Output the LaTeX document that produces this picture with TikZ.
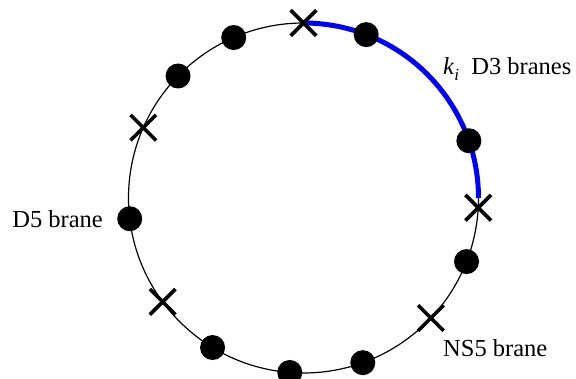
\documentclass[tikz,border=0pt]{standalone}
\usepackage{fontspec}
\setmainfont{Liberation Serif}
\newfontfamily\lserif{Liberation Serif}
\usetikzlibrary{shapes.misc}
\begin{document}
\begin{tikzpicture}[x=1pt,y=1pt,
  dbrane/.style={circle,fill=black,inner sep=0pt,minimum size=25pt},
  nsbrane/.style={cross out,draw=black,line width=3.6pt,inner sep=0pt,minimum size=22pt},
  lbl/.style={font=\lserif\fontsize{24.5}{28}\selectfont,inner sep=0pt}]
\useasboundingbox (0,0) rectangle (576,378);
\coordinate (c) at (303.5,180);
\draw[line width=1.2pt] (c) circle[radius=175];
\draw[blue,line width=5pt] ([shift={(90:175)}]c) arc[start angle=90,end angle=0,radius=175];
% D5 branes (dots)
\foreach \a/\n in {69/d1,113.5/d2,135.8/d3,186.8/d4,238.7/d5,265.5/d6,289.8/d7,338.7/d8,19.1/d9}
  \node[dbrane] (\n) at ([shift={(\a:175)}]c) {};
% NS5 branes (crosses)
\foreach \a/\n in {90/x1,156.3/x2,216.4/x3,316.7/x4,356.8/x5}
  \node[nsbrane] (\n) at ([shift={(\a:175)}]c) {};
\node[lbl,anchor=base west] (l1) at (443,303) {\textit{k}\raisebox{-0.22em}{\fontsize{17}{20}\selectfont\textit{i}}\ \ D3 branes};
\node[lbl,anchor=base east] (l2) at (103,150) {D5 brane};
\node[lbl,anchor=base west] (l3) at (443,22) {NS5 brane};
\end{tikzpicture}
\end{document}
